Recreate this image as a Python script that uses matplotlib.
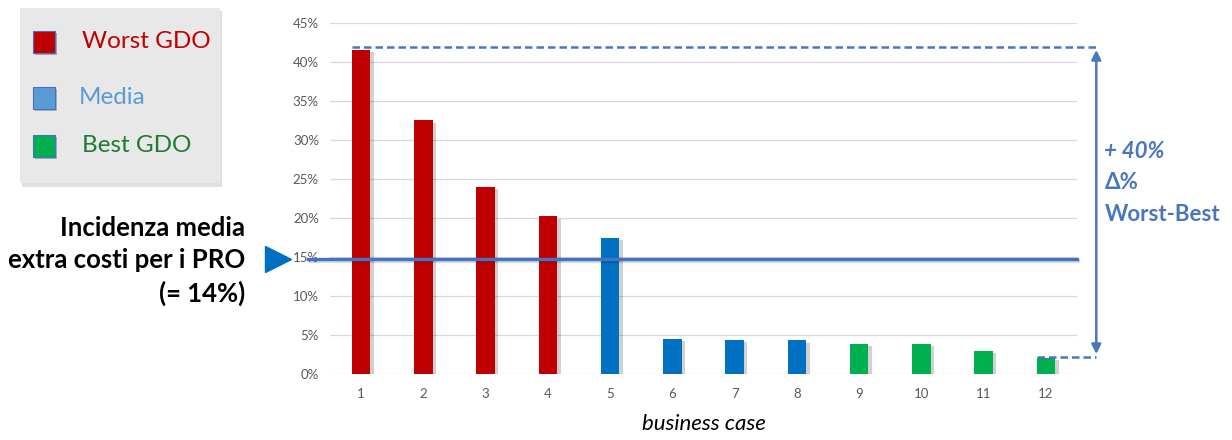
import matplotlib
matplotlib.use("Agg")
import matplotlib.pyplot as plt
import matplotlib.patheffects as pe
from matplotlib.patches import Rectangle, FancyArrowPatch
from matplotlib.ticker import PercentFormatter

# data
cases = list(range(1, 13))
values = [0.416, 0.325, 0.240, 0.202, 0.175, 0.045, 0.044, 0.043, 0.039, 0.038, 0.029, 0.020]
groups = ["worst"] * 4 + ["media"] * 4 + ["best"] * 4
media_line = 0.147
delta_top = 0.419
delta_bottom = 0.022

bar_colors = {"worst": "#C00000", "media": "#0070C0", "best": "#00B050"}
legend_labels = ["Worst GDO", "Media", "Best GDO"]
legend_box_colors = ["#C00000", "#5B9BD5", "#00B050"]
legend_text_colors = ["#C00000", "#5B9BD5", "#1E7B34"]
annot_color = "#4A76BE"

plt.rcParams['font.family'] = ['Lato', 'DejaVu Sans']

fig = plt.figure(figsize=(12.32, 4.4), dpi=100)
ax = fig.add_axes([330 / 1232, 1 - 374 / 440, 747 / 1232, 351 / 440])

shadow = [pe.SimplePatchShadow(offset=(2.5, -1.5), shadow_rgbFace="#000000", alpha=0.18), pe.Normal()]
bw = 0.3
bars = ax.bar(cases, values, width=bw, color=[bar_colors[g] for g in groups], zorder=3)
for b in bars:
    b.set_path_effects(shadow)

ax.set_xlim(0.5, 12.5)
ax.set_ylim(0, 0.45)
ax.set_yticks([i * 0.05 for i in range(10)])
ax.yaxis.set_major_formatter(PercentFormatter(1.0, decimals=0))
ax.set_xticks(cases)
ax.tick_params(length=0, labelsize=9.5, colors="#595959")
ax.tick_params(axis="y", pad=8)
ax.tick_params(axis="x", pad=10)
ax.grid(axis="y", color="#D9D9D9", linewidth=0.9, zorder=0)
ax.set_axisbelow(True)
for s in ax.spines.values():
    s.set_visible(False)

ax.set_xlabel("business case", fontsize=16, style="italic", labelpad=10)

# average line, runs left of the axis to the arrow marker
line_shadow = [pe.SimpleLineShadow(offset=(1, -1), alpha=0.15), pe.Normal()]
ax.plot([0.15, 12.5], [media_line, media_line], color="#4472C4", lw=2.4,
        clip_on=False, zorder=4, path_effects=line_shadow)
ax.plot([-0.34], [media_line], marker=">", markersize=19, color="#0070C0",
        clip_on=False, zorder=5, linestyle="none")

# worst-best delta annotation
xr = 12.81
ax.plot([cases[0] - bw / 2, xr], [delta_top, delta_top], color=annot_color, lw=1.8,
        linestyle=(0, (3, 1.6)), clip_on=False, zorder=4)
ax.plot([cases[-1] - bw / 2, xr], [delta_bottom, delta_bottom], color=annot_color, lw=1.8,
        linestyle=(0, (3, 1.6)), clip_on=False, zorder=4)
arr = FancyArrowPatch((xr, delta_top), (xr, delta_bottom), arrowstyle="<|-|>",
                      mutation_scale=14, color=annot_color, lw=1.8, clip_on=False, zorder=4)
ax.add_patch(arr)
ax.text(12.94, 0.285, "+ 40%", color=annot_color, fontsize=16, fontweight="bold",
        style="italic", va="center", ha="left", clip_on=False)
ax.text(12.94, 0.245, "Δ%", color=annot_color, fontsize=16, fontweight="bold",
        va="center", ha="left", clip_on=False)
ax.text(12.94, 0.205, "Worst-Best", color=annot_color, fontsize=16, fontweight="bold",
        va="center", ha="left", clip_on=False)

# left caption
fig.text(245 / 1232, 1 - 261 / 440, "Incidenza media\nextra costi per i PRO\n(= 14%)",
         ha="right", va="center", fontsize=18.5, fontweight="bold", linespacing=1.42)

# legend box
W, H = 1232, 440
fig.patches.append(Rectangle((22 / W, 1 - 187 / H), 200 / W, 176 / H, transform=fig.transFigure,
                             facecolor="#000000", alpha=0.12, edgecolor="none", zorder=0))
fig.patches.append(Rectangle((20 / W, 1 - 183 / H), 200 / W, 175 / H, transform=fig.transFigure,
                             facecolor="#E8E8E8", edgecolor="none", zorder=1))
sq_y = [42, 98, 146]
txt_x = [82, 79, 82]
for lab, bc, tc, yy, xx in zip(legend_labels, legend_box_colors, legend_text_colors, sq_y, txt_x):
    fig.patches.append(Rectangle((33 / W, 1 - (yy + 11) / H), 22 / W, 22 / H, transform=fig.transFigure,
                                 facecolor=bc, edgecolor="#4472C4", lw=0.8, zorder=2,
                                 path_effects=[pe.SimplePatchShadow(offset=(1.5, -1.5), alpha=0.3), pe.Normal()]))
    fig.text(xx / W, 1 - yy / H, lab, color=tc, fontsize=17.5, va="center", ha="left", zorder=3)

fig.savefig("out.png", dpi=100)
